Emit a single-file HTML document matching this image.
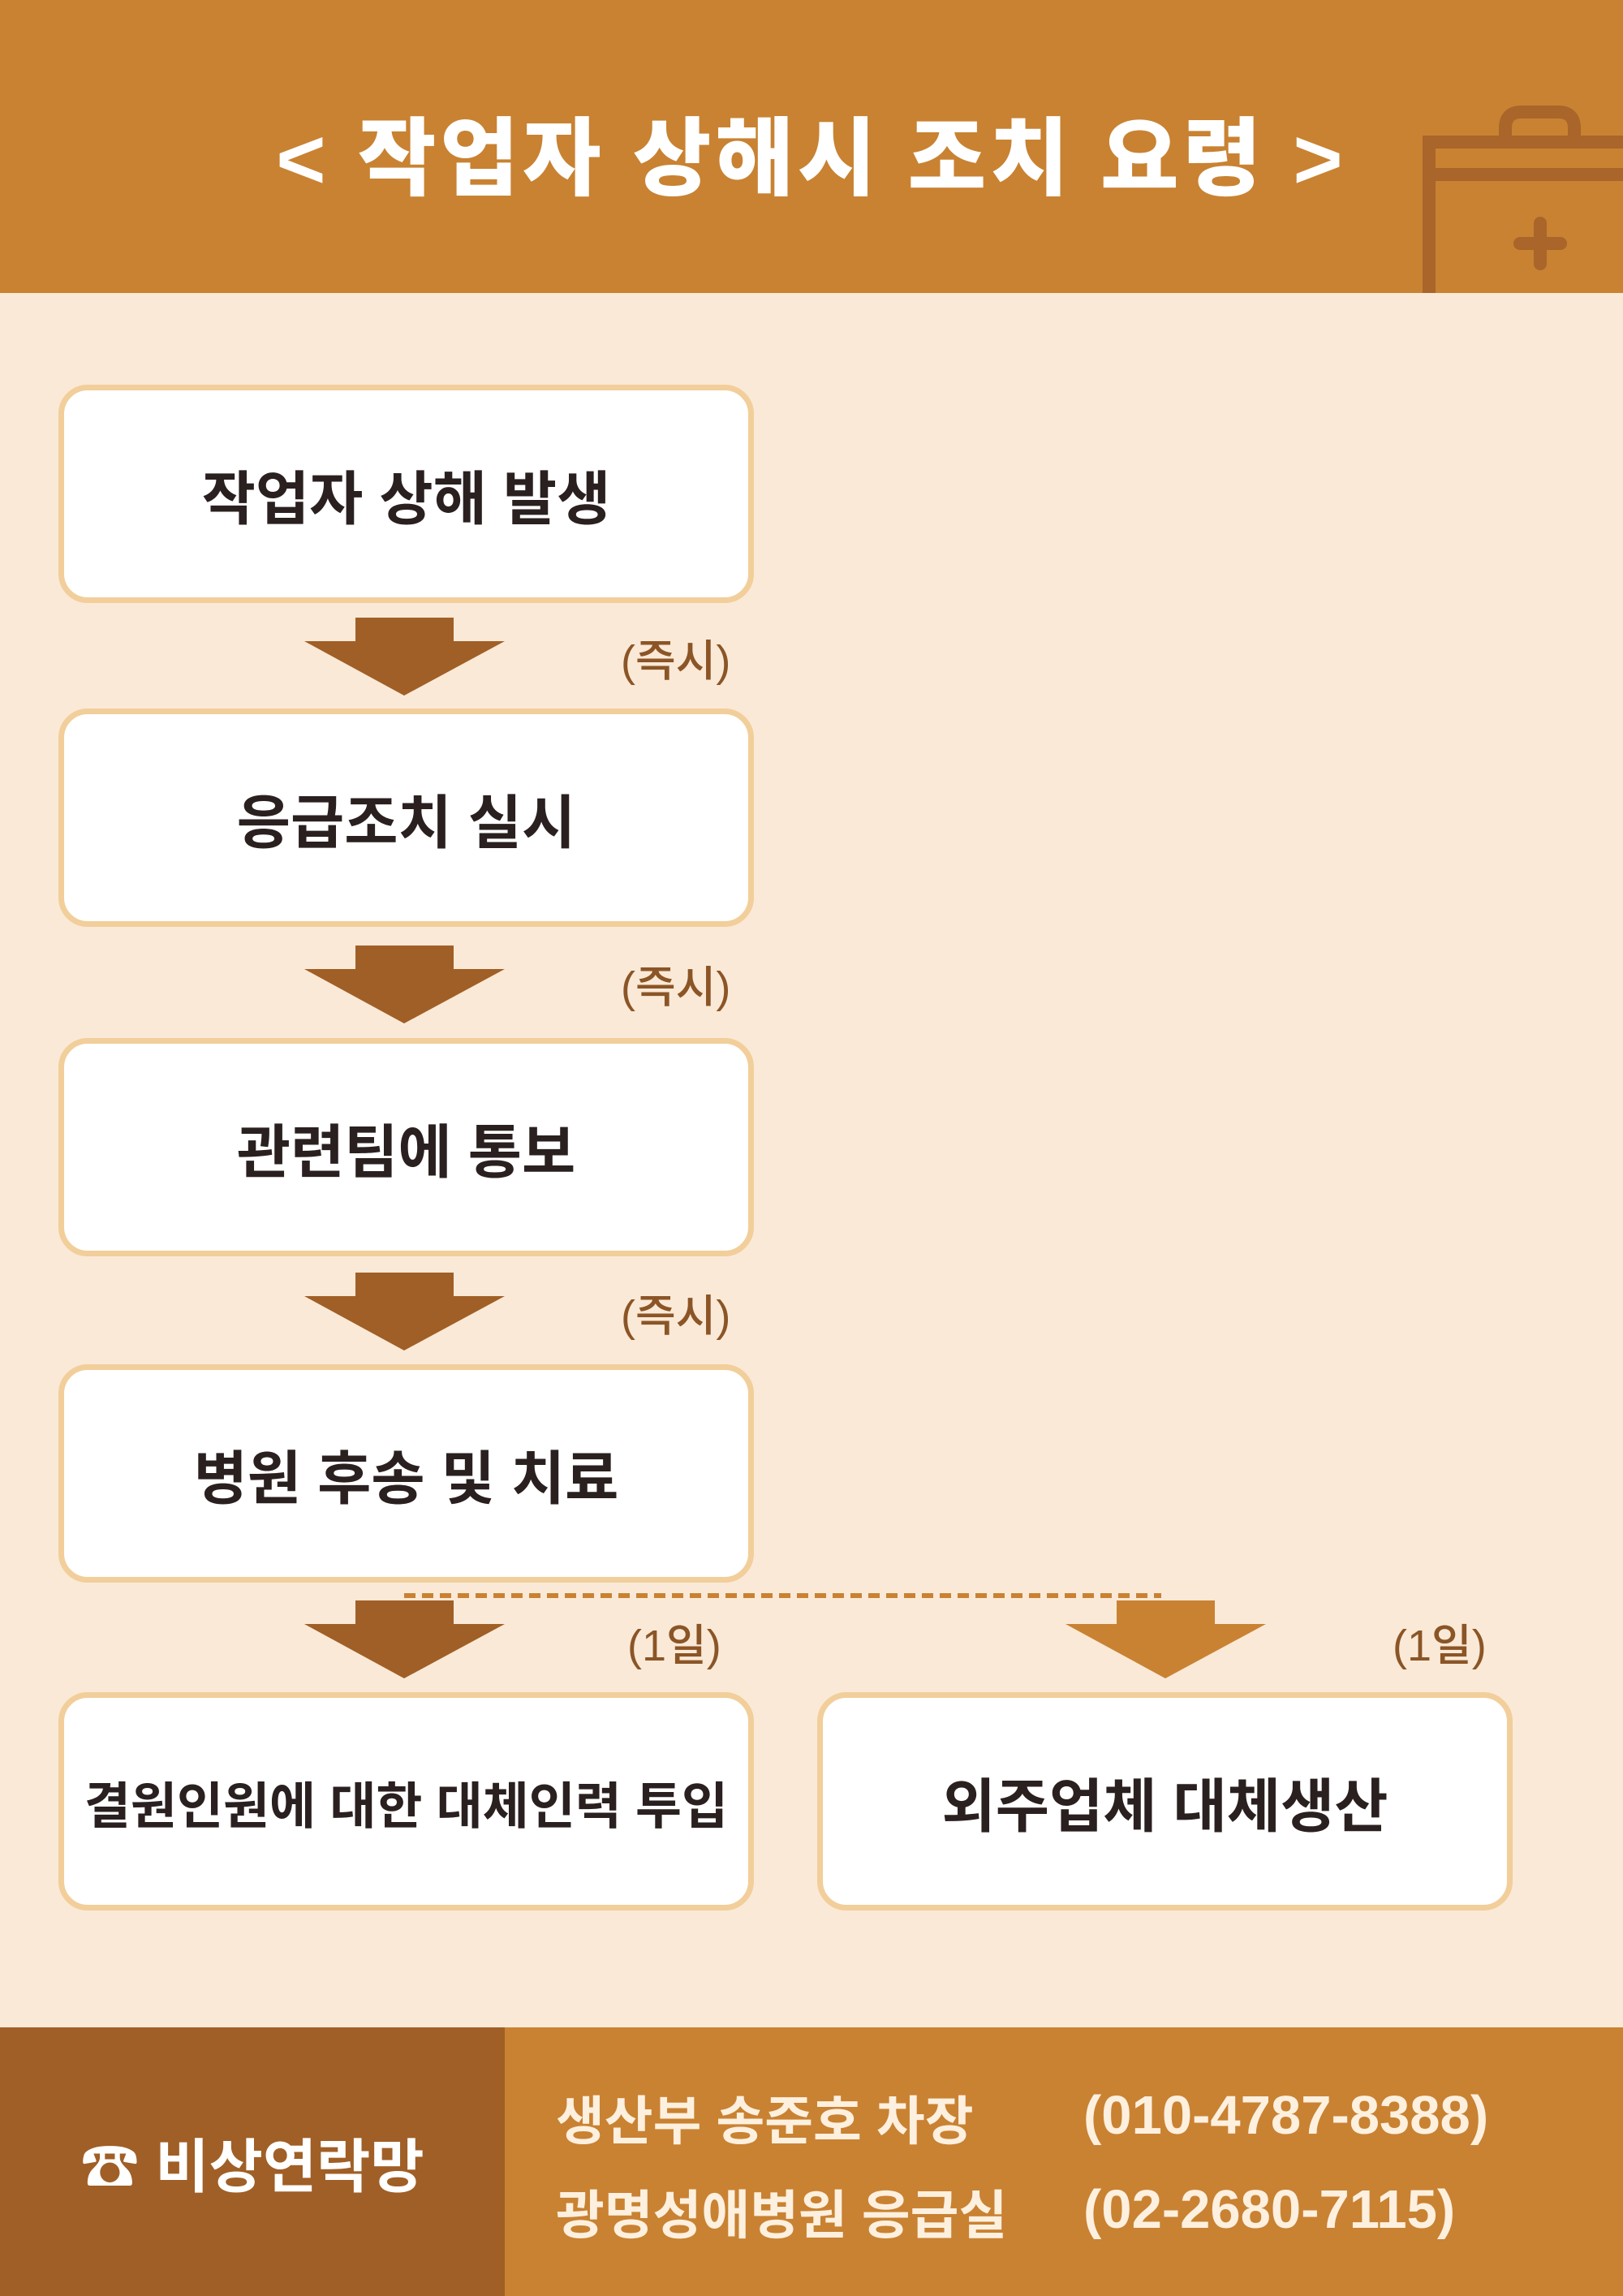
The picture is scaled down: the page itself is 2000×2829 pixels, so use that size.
<!DOCTYPE html>
<html><head><meta charset="utf-8"><style>
*{margin:0;padding:0;box-sizing:border-box}
body{width:2000px;height:2829px;background:#FAE9D7;position:relative;overflow:hidden;font-family:"Liberation Sans","Noto Sans CJK KR",sans-serif}
.hdr{position:absolute;left:0;top:0;width:2000px;height:361px;background:#C98232}
.title{position:absolute;left:0;width:2000px;top:111px;text-align:center;color:#fff;font-size:105px;font-weight:900;letter-spacing:5px}
.box{position:absolute;width:857px;height:269px;background:#fff;border:7px solid #F2CE9A;border-radius:36px;display:flex;align-items:center;justify-content:center;font-size:72px;font-weight:700;color:#2a2020}
.lab{position:absolute;font-size:54px;color:#8B5526;font-weight:500}
.ftr{position:absolute;left:0;top:2498px;width:2000px;height:331px;background:#C98232}
.fl{position:absolute;left:0;top:2498px;width:622px;height:331px;background:#A05F26;color:#fff;font-size:72px;font-weight:700;display:flex;align-items:center;justify-content:center}
.ft{position:absolute;color:#FDF0DF;font-size:65px;font-weight:700}
.ph{font-size:67px}
</style></head><body>
<div class="hdr"></div>
<div class="title">&lt; 작업자 상해시 조치 요령 &gt;</div>
<svg style="position:absolute;left:1750px;top:130px" width="250" height="231">
<g fill="none" stroke="#A9652A" stroke-width="16" stroke-linecap="round">
<path d="M105 45 V28 Q105 8 125 8 H170 Q190 8 190 28 V45"/>
<path d="M11 231 V45 H250"/>
<path d="M11 85 H250"/>
<path d="M148 145 V195 M123 170 H173"/>
</g></svg>
<div class="box" style="left:72px;top:474px">작업자 상해 발생</div>
<div class="box" style="left:72px;top:873px">응급조치 실시</div>
<div class="box" style="left:72px;top:1279px">관련팀에 통보</div>
<div class="box" style="left:72px;top:1681px">병원 후송 및 치료</div>
<div class="box" style="left:72px;top:2085px;font-size:62px">결원인원에 대한 대체인력 투입</div>
<div class="box" style="left:1007px;top:2085px">외주업체 대체생산</div>
<svg style="position:absolute;left:0;top:0" width="2000" height="2829">
<g fill="#A05F26">
<polygon points="438,761 559,761 559,790 622,790 498,857 375,790 438,790"/>
<polygon points="438,1165 559,1165 559,1194 622,1194 498,1261 375,1194 438,1194"/>
<polygon points="438,1568 559,1568 559,1597 622,1597 498,1664 375,1597 438,1597"/>
<polygon points="438,1972 559,1972 559,2001 622,2001 498,2068 375,2001 438,2001"/>
</g>
<line x1="498" y1="1966" x2="1431" y2="1966" stroke="#C98232" stroke-width="6" stroke-dasharray="14,8"/>
<polygon fill="#C98232" points="1376,1972 1497,1972 1497,2001 1560,2001 1436,2068 1313,2001 1376,2001"/>
</svg>
<div class="lab" style="left:765px;top:770px">(즉시)</div>
<div class="lab" style="left:765px;top:1172px">(즉시)</div>
<div class="lab" style="left:765px;top:1577px">(즉시)</div>
<div class="lab" style="left:773px;top:1983px">(1일)</div>
<div class="lab" style="left:1716px;top:1983px">(1일)</div>
<div class="ftr"></div>
<div class="fl">☎ 비상연락망</div>
<div class="ft" style="left:685px;top:2561px">생산부 송준호 차장</div>
<div class="ft ph" style="left:1335px;top:2568px">(010-4787-8388)</div>
<div class="ft" style="left:685px;top:2677px">광명성애병원 응급실</div>
<div class="ft ph" style="left:1335px;top:2684px">(02-2680-7115)</div>
</body></html>
